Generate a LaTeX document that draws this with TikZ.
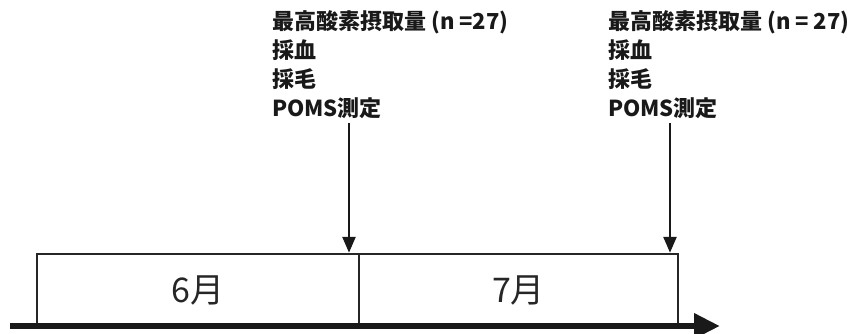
\documentclass[tikz,border=0pt]{standalone}
\usepackage{fontspec}
\newfontfamily\cjk{Noto Sans CJK JP}
\usetikzlibrary{arrows.meta}
\begin{document}
\begin{tikzpicture}[x=1pt,y=-1pt,
  month/.style={draw=black!85,line width=2.5pt,minimum height=72pt,inner sep=0pt,font=\cjk\fontsize{34}{36}\selectfont,text=black!85},
  lbl/.style={anchor=north west,align=left,inner sep=0pt,font=\cjk\bfseries\fontsize{22}{29}\selectfont,text=black!90},
  down/.style={line width=2.6pt,draw=black!90,-{Triangle[length=16pt,width=13pt]}},
  axis/.style={line width=6.5pt,draw=black!90,-{Triangle[length=26pt,width=24pt]}}]
\useasboundingbox (0,0) rectangle (848,334);
\node[month,minimum width=322pt] (m6) at (198,290) {6月};
\node[month,minimum width=319pt] (m7) at (518.5,290) {7月};
\coordinate (a0) at (10,326);
\coordinate (a1) at (720,326);
\draw[axis] (a0) -- (a1);
\node[lbl] (t1) at (272,10) {最高酸素摂取量 (n =27)\\採血\\採毛\\POMS測定};
\node[lbl] (t2) at (608,10) {最高酸素摂取量 (n = 27)\\採血\\採毛\\POMS測定};
\coordinate (d1) at (349,123);
\coordinate (d2) at (670,123);
\draw[down] (d1) -- (d1 |- m6.north);
\draw[down] (d2) -- (d2 |- m7.north);
\end{tikzpicture}
\end{document}
